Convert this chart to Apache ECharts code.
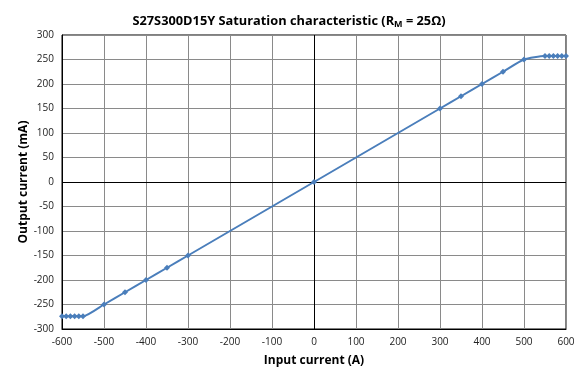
<!DOCTYPE html>
<html>
<head>
<meta charset="utf-8">
<script src="https://cdn.jsdelivr.net/npm/echarts@6/dist/echarts.min.js"></script>
<style>html,body{margin:0;padding:0;background:#fff}#c{width:578px;height:367px}</style>
</head>
<body>
<div id="c"></div>
<script>
const inputCurrent = [-600,-590,-580,-570,-560,-550,-500,-450,-400,-350,-300,0,300,350,400,450,500,550,560,570,580,590,600];
const outputCurrent = [-274,-274,-274,-274,-274,-274,-250,-225,-200,-175,-150,0,150,175,200,225,250,257,257,257,257,257,257];
const titleText = 'S27S300D15Y Saturation characteristic (R';
const xName = 'Input current (A)';
const yName = 'Output current (mA)';

const chart = echarts.init(document.getElementById('c'));
const font = 'Open Sans, Liberation Sans, sans-serif';
chart.setOption({
  animation: false,
  title: {
    text: '{a|' + titleText + '}{s|M}{a| = 25Ω)}',
    left: 'center', top: 9,
    textStyle: {
      rich: {
        a: {fontFamily: font, fontWeight: 'bold', fontSize: 12.8, color: '#000'},
        s: {fontFamily: font, fontWeight: 'bold', fontSize: 9, color: '#000', verticalAlign: 'bottom', padding: [6,0,0,0]}
      }
    }
  },
  grid: {left: 62, right: 12, top: 35, bottom: 38, show: true, borderColor: '#000', borderWidth: 1, outerBoundsMode: 'none', containLabel: false},
  xAxis: {
    type: 'value', min: -600, max: 600, interval: 100,
    name: xName, nameLocation: 'middle', nameGap: 26, nameMoveOverlap: false,
    nameTextStyle: {fontFamily: font, fontWeight: 'bold', fontSize: 12, color: '#000'},
    axisLine: {onZero: false, lineStyle: {color: '#000'}},
    axisTick: {show: false},
    axisLabel: {fontFamily: font, fontSize: 10, color: '#222', margin: 8},
    splitLine: {show: true, lineStyle: {color: '#8a8a8a', width: 1}}
  },
  yAxis: {
    type: 'value', min: -300, max: 300, interval: 50,
    name: yName, nameLocation: 'middle', nameGap: 32, nameMoveOverlap: false,
    nameTextStyle: {fontFamily: font, fontWeight: 'bold', fontSize: 12, color: '#000'},
    axisLine: {show: true, onZero: false, lineStyle: {color: '#000'}},
    axisTick: {show: false},
    axisLabel: {fontFamily: font, fontSize: 10, color: '#222', margin: 8},
    splitLine: {show: true, lineStyle: {color: '#8a8a8a', width: 1}}
  },
  series: [{
    type: 'line',
    data: inputCurrent.map((x, i) => [x, outputCurrent[i]]),
    smooth: 0.2,
    symbol: 'diamond', symbolSize: 6, showSymbol: true,
    lineStyle: {color: '#4a7ebb', width: 2},
    itemStyle: {color: '#4a7ebb'},
    z: 5,
    markLine: {
      silent: true, symbol: 'none', label: {show: false},
      lineStyle: {color: '#000', width: 1, type: 'solid'},
      data: [{xAxis: 0}, {yAxis: 0}],
      z: 3
    }
  }]
});
</script>
</body>
</html>
